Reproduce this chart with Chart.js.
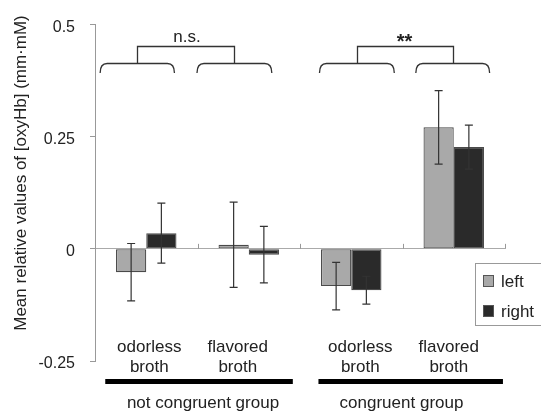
<!DOCTYPE html>
<html>
<head>
<meta charset="utf-8">
<script src="https://cdn.jsdelivr.net/npm/chart.js@4.4.1/dist/chart.umd.min.js"></script>
<style>
    body { margin: 0; background: #fff; }
    #wrap { position: relative; width: 541px; height: 414px; }
</style>
</head>
<body>
<div id="wrap"><canvas id="chart"></canvas></div>
<script>
// data
const categories = [["odorless", "broth"], ["flavored", "broth"], ["odorless", "broth"], ["flavored", "broth"]];
const leftMeans = [-0.052, 0.009, -0.083, 0.271];
const leftErrors = [0.064, 0.095, 0.053, 0.082];
const rightMeans = [0.035, -0.013, -0.092, 0.227];
const rightErrors = [0.067, 0.063, 0.031, 0.049];
const seriesNames = ["left", "right"];
const groups = ["not congruent group", "congruent group"];
const significance = ["n.s.", "**"];
const yTicks = [-0.25, 0, 0.25, 0.5];
const yTitle = "Mean relative values of [oxyHb] (mm\u00b7mM)";

const FONT = "'Liberation Sans', Arial, sans-serif";
const TEXT = "#222";
const colors = ["#a9a9a9", "#2a2a2a"];

// error bars on top of each bar
const errorBars = {
    id: "errorBars",
    afterDatasetsDraw(chart) {
        const ctx = chart.ctx;
        const y = chart.scales.y;
        const errs = [leftErrors, rightErrors];
        ctx.save();
        ctx.strokeStyle = "#333";
        ctx.lineWidth = 1.2;
        chart.data.datasets.forEach((ds, di) => {
            chart.getDatasetMeta(di).data.forEach((bar, i) => {
                const v = ds.data[i], e = errs[di][i];
                const top = y.getPixelForValue(v + e), bot = y.getPixelForValue(v - e);
                ctx.beginPath();
                ctx.moveTo(bar.x, top); ctx.lineTo(bar.x, bot);
                ctx.moveTo(bar.x - 4, top); ctx.lineTo(bar.x + 4, top);
                ctx.moveTo(bar.x - 4, bot); ctx.lineTo(bar.x + 4, bot);
                ctx.stroke();
            });
        });
        ctx.restore();
    }
};

// braces, significance brackets, category labels, group lines, legend, y title
const annotations = {
    id: "annotations",
    afterDraw(chart) {
        const ctx = chart.ctx;
        const x = chart.scales.x, y = chart.scales.y;
        const px = (i, off) => x.getPixelForValue(i) + off * (x.getPixelForValue(1) - x.getPixelForValue(0));
        ctx.save();

        // small ticks on the zero line at category boundaries
        const y0 = y.getPixelForValue(0);
        ctx.strokeStyle = "#999";
        ctx.lineWidth = 1;
        for (let i = 0; i < categories.length; i++) {
            const bx = Math.round(px(i, 0.5)) + 0.5;
            ctx.beginPath(); ctx.moveTo(bx, y0); ctx.lineTo(bx, y0 - 5); ctx.stroke();
        }

        // braces over each category
        const braceSpan = [[-0.45, 0.275], [-0.505, 0.225], [-0.31, 0.42], [-0.37, 0.35]];
        const braceTop = 63.5, braceEnd = 73, r = 7;
        const centers = [];
        ctx.strokeStyle = "#333";
        ctx.lineWidth = 1.3;
        braceSpan.forEach((s, i) => {
            const x1 = px(i, s[0]), x2 = px(i, s[1]);
            centers.push(Math.round((x1 + x2) / 2) + 0.5);
            ctx.beginPath();
            ctx.moveTo(x1, braceEnd);
            ctx.quadraticCurveTo(x1, braceTop, x1 + r, braceTop);
            ctx.lineTo(x2 - r, braceTop);
            ctx.quadraticCurveTo(x2, braceTop, x2, braceEnd);
            ctx.stroke();
        });

        // brackets joining pairs of braces
        const bracketTop = 46.5;
        ctx.fillStyle = TEXT;
        ctx.textAlign = "center";
        ctx.textBaseline = "alphabetic";
        for (let g = 0; g < 2; g++) {
            const a = centers[g * 2], b = centers[g * 2 + 1];
            ctx.beginPath();
            ctx.moveTo(a, braceTop); ctx.lineTo(a, bracketTop);
            ctx.lineTo(b, bracketTop); ctx.lineTo(b, braceTop);
            ctx.stroke();
        }
        ctx.font = "17px " + FONT;
        ctx.fillText(significance[0], (centers[0] + centers[1]) / 2 + 1, 42);
        ctx.font = "bold 20px " + FONT;
        ctx.fillText(significance[1], (centers[2] + centers[3]) / 2 - 1, 48);

        // category labels
        ctx.font = "17px " + FONT;
        const labelShift = [3, -11, 9, -5];
        categories.forEach((lines, i) => {
            const cx = px(i, 0) + labelShift[i];
            lines.forEach((t, k) => ctx.fillText(t, cx, 352 + k * 20));
        });

        // thick group lines and group names
        const groupSpan = [[0, -0.40, 1, 0.43], [2, -0.32, 3, 0.48]];
        const groupShift = [5.5, -1];
        ctx.strokeStyle = "#000";
        ctx.lineWidth = 5;
        groupSpan.forEach((s, g) => {
            const x1 = px(s[0], s[1]), x2 = px(s[2], s[3]);
            ctx.beginPath(); ctx.moveTo(x1, 381.5); ctx.lineTo(x2, 381.5); ctx.stroke();
            ctx.fillText(groups[g], px(s[0], 0.5) + groupShift[g], 408);
        });

        // legend box
        ctx.strokeStyle = "#999";
        ctx.lineWidth = 1;
        ctx.strokeRect(475.5, 263.5, 70, 62);
        ctx.textAlign = "left";
        seriesNames.forEach((name, k) => {
            const ly = 275.5 + k * 30;
            ctx.fillStyle = colors[k];
            ctx.fillRect(483.5, ly, 10, 11);
            ctx.strokeStyle = "#555";
            ctx.strokeRect(483.5, ly, 10, 11);
            ctx.fillStyle = TEXT;
            ctx.fillText(name, 501, ly + 11.5);
        });

        // y axis title
        ctx.translate(21, 173);
        ctx.rotate(-Math.PI / 2);
        ctx.textAlign = "center";
        ctx.textBaseline = "middle";
        ctx.font = "17px " + FONT;
        ctx.fillText(yTitle, 0, 0);
        ctx.restore();
    }
};

new Chart(document.getElementById("chart"), {
    type: "bar",
    data: {
        labels: categories,
        datasets: [
            { label: seriesNames[0], data: leftMeans, backgroundColor: colors[0] },
            { label: seriesNames[1], data: rightMeans, backgroundColor: colors[1] }
        ]
    },
    options: {
        responsive: true,
        maintainAspectRatio: false,
        animation: false,
        events: [],
        layout: { padding: { left: 0, right: 36, top: 19, bottom: 53 } },
        datasets: {
            bar: {
                categoryPercentage: 0.59,
                barPercentage: 1,
                borderColor: "#4a4a4a",
                borderWidth: 1.2,
                borderSkipped: false
            }
        },
        scales: {
            x: { display: false },
            y: {
                min: -0.25,
                max: 0.5,
                afterBuildTicks: (s) => { s.ticks = yTicks.map(v => ({ value: v })); },
                afterFit: (s) => { s.width = 95; },
                border: { display: true, color: "#999", width: 1 },
                grid: {
                    drawOnChartArea: true,
                    color: (c) => (c.tick && c.tick.value === 0 ? "#aaa" : "rgba(0,0,0,0)"),
                    tickColor: "#999",
                    tickLength: 5,
                    lineWidth: 1
                },
                ticks: {
                    padding: 15,
                    labelOffset: 3,
                    color: TEXT,
                    font: { family: FONT, size: 16 },
                    callback: (v) => String(v)
                }
            }
        },
        plugins: {
            legend: { display: false },
            tooltip: { enabled: false }
        }
    },
    plugins: [errorBars, annotations]
});
</script>
</body>
</html>
